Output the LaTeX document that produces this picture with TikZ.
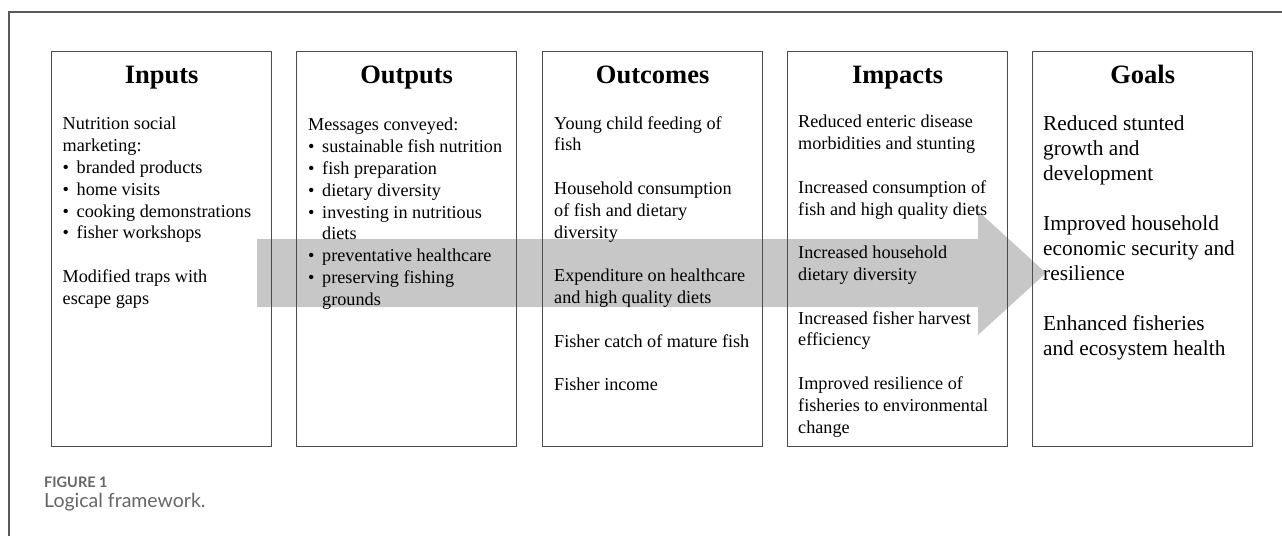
\documentclass[tikz,border=0pt]{standalone}
\usepackage{fontspec}
\setmainfont{Liberation Serif}
\newfontfamily\captionfont{Lato}
\usetikzlibrary{positioning}

\newcommand{\bul}{\makebox[14pt][l]{\textbullet}}
\newcommand{\ind}{\hspace*{14pt}}

\begin{document}
\begin{tikzpicture}[x=1pt, y=-1pt,
	stagebox/.style={draw=black!70, line width=1.3pt, minimum width=220pt, minimum height=395pt, inner sep=0pt, anchor=north west},
	stagetitle/.style={font=\fontsize{26.5}{30}\selectfont\bfseries, anchor=base, inner sep=0pt},
	stagetext/.style={font=\fontsize{18.2}{21.8}\selectfont, align=left, anchor=north west, inner sep=0pt,
		yshift=14pt, execute at begin node={\rule{0pt}{14pt}}},
	goaltext/.style={font=\fontsize{21.3}{25}\selectfont, align=left, anchor=north west, inner sep=0pt,
		yshift=17pt, execute at begin node={\rule{0pt}{17pt}}},
	captext/.style={anchor=base west, inner sep=0pt, text=black!60}]

		\useasboundingbox (0,0) rectangle (1282,536);

		\def\gap{21.8pt} % blank line between items

		% Outer frame (only top and left edges visible)
		\draw[black!65, line width=1.5pt] (1282,12) -- (9,12) -- (9,536);

		% Big grey arrow behind the boxes
		\fill[black!22] (257,239) -- (978,239) -- (978,211) -- (1046,273)
			-- (978,335) -- (978,307) -- (257,307) -- cycle;

		% Boxes and their titles
		\foreach \name/\x/\title in {inputs/51/Inputs, outputs/296/Outputs, outcomes/542/Outcomes,
			impacts/787/Impacts, goals/1032/Goals} {
			\node[stagebox] (\name) at (\x,51) {};
			\node[stagetitle] (\name-title) at ([yshift=-32pt]\name.north) {\title};
		}

		% Box contents (shift = first baseline)
		\node[stagetext] (inputs-text) at ([xshift=11.5pt, yshift=-80pt]inputs.north west) {%
			Nutrition social\\
			marketing:\\
			\bul branded products\\
			\bul home visits\\
			\bul cooking demonstrations\\
			\bul fisher workshops\\[\gap]
			Modified traps with\\
			escape gaps};

		\node[stagetext] (outputs-text) at ([xshift=12pt, yshift=-81pt]outputs.north west) {%
			Messages conveyed:\\
			\bul sustainable fish nutrition\\
			\bul fish preparation\\
			\bul dietary diversity\\
			\bul investing in nutritious\\
			\ind diets\\
			\bul preventative healthcare\\
			\bul preserving fishing\\
			\ind grounds};

		\node[stagetext] (outcomes-text) at ([xshift=12pt, yshift=-79pt]outcomes.north west) {%
			Young child feeding of\\
			fish\\[\gap]
			Household consumption\\
			of fish and dietary\\
			diversity\\[\gap]
			Expenditure on healthcare\\
			and high quality diets\\[\gap]
			Fisher catch of mature fish\\[\gap]
			Fisher income};

		\node[stagetext] (impacts-text) at ([xshift=11pt, yshift=-78pt]impacts.north west) {%
			Reduced enteric disease\\
			morbidities and stunting\\[\gap]
			Increased consumption of\\
			fish and high quality diets\\[\gap]
			Increased household\\
			dietary diversity\\[\gap]
			Increased fisher harvest\\
			efficiency\\[\gap]
			Improved resilience of\\
			fisheries to environmental\\
			change};

		\node[goaltext] (goals-text) at ([xshift=11pt, yshift=-82pt]goals.north west) {%
			Reduced stunted\\
			growth and\\
			development\\[25pt]
			Improved household\\
			economic security and\\
			resilience\\[25pt]
			Enhanced fisheries\\
			and ecosystem health};

		% Caption
		\node[captext, font=\captionfont\bfseries\fontsize{14.5}{17}\selectfont] (figlabel) at (44,487) {FIGURE 1};
		\node[captext, font=\captionfont\fontsize{19.5}{22}\selectfont] (figcaption) at (44,507) {Logical framework.};

	\end{tikzpicture}
\end{document}
